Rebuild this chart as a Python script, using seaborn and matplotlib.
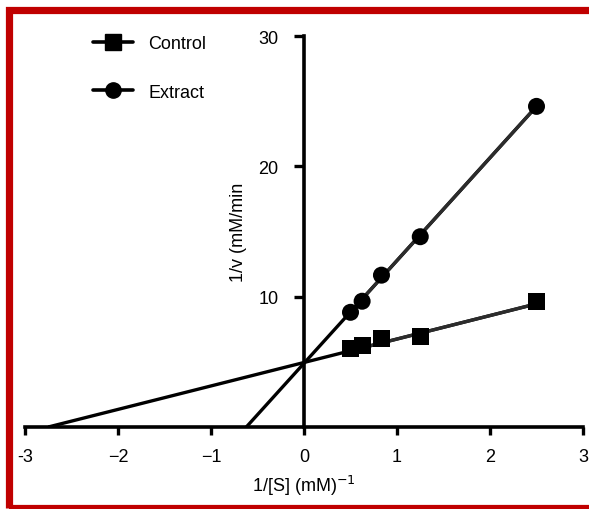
import matplotlib
matplotlib.use("Agg")
import matplotlib.pyplot as plt
import seaborn as sns
import numpy as np
import pandas as pd
from matplotlib.lines import Line2D
from matplotlib.patches import Rectangle

# Lineweaver-Burk data
inv_s = [0.5, 0.625, 0.833, 1.25, 2.5]
control_inv_v = [6.0, 6.25, 6.8, 6.95, 9.65]
extract_inv_v = [8.8, 9.65, 11.65, 14.6, 24.6]

# fitted lines, from x-intercept to last point
control_fit_x = [-2.75, 2.5]
control_fit_y = [0, 9.45]
extract_fit_x = [-0.62, 2.5]
extract_fit_y = [0, 24.6]

xticks = [-3, -2, -1, 0, 1, 2, 3]
xtick_labels = ["-3", "\u22122", "\u22121", "0", "1", "2", "3"]
yticks = [10, 20, 30]

df = pd.DataFrame({
    "x": inv_s * 2,
    "y": control_inv_v + extract_inv_v,
    "group": ["Control"] * 5 + ["Extract"] * 5,
})

sns.set_theme(style="white")
plt.rcParams["font.family"] = ["Liberation Sans", "DejaVu Sans"]
plt.rcParams["text.color"] = "black"
plt.rcParams["axes.labelcolor"] = "black"
plt.rcParams["xtick.color"] = "black"
plt.rcParams["ytick.color"] = "black"

fig = plt.figure(figsize=(5.89, 5.10), dpi=100)
ax = fig.add_axes([25 / 589, 1 - 428 / 510, 558 / 589, 391 / 510])

for fx, fy in [(control_fit_x, control_fit_y), (extract_fit_x, extract_fit_y)]:
    ax.plot(fx, fy, color="black", lw=2.4, solid_capstyle="butt", zorder=2)
    x0 = inv_s[0]
    y0 = np.interp(x0, fx, fy)
    ax.plot([x0, fx[1]], [y0, fy[1]], color="#2c2c2c", lw=2.4, zorder=3)

sns.scatterplot(data=df, x="x", y="y", style="group", markers={"Control": "s", "Extract": "o"},
                color="black", s=150, edgecolor="black", linewidth=0, legend=False, ax=ax, zorder=4)

ax.set_xlim(-3, 3)
ax.set_ylim(0, 30)
for s in ["top", "right"]:
    ax.spines[s].set_visible(False)
ax.spines["left"].set_position(("data", 0))
ax.spines["bottom"].set_position(("data", 0))
for s in ["left", "bottom"]:
    ax.spines[s].set_linewidth(2.6)
    ax.spines[s].set_color("black")

ax.set_xticks(xticks)
ax.set_xticklabels(xtick_labels)
ax.set_yticks(yticks)
ax.tick_params(axis="x", direction="out", length=6, width=2.4, pad=9, labelsize=13, bottom=True)
ax.tick_params(axis="y", direction="out", length=7.5, width=2.4, pad=11, labelsize=13, left=True)

ax.set_xlabel("1/[S] (mM)$^{-1}$", fontsize=13, labelpad=6)
ax.set_ylabel("1/v (mM/min", fontsize=13, labelpad=8)

handles = [
    Line2D([], [], color="black", lw=2.6, marker="s", markersize=11),
    Line2D([], [], color="black", lw=2.6, marker="o", markersize=11),
]
fig.legend(handles, ["Control", "Extract"], loc="upper left",
           bbox_to_anchor=(93 / 589, 1 - 36 / 510), frameon=False, fontsize=13,
           handlelength=2.2, handletextpad=0.85, labelspacing=1.75,
           borderpad=0, borderaxespad=0)

# red frame (right side cropped in the original)
fig.patches.append(Rectangle((8.5 / 589, 1.5 / 510), 1.2, 1 - 12 / 510,
                             transform=fig.transFigure, fill=False,
                             edgecolor="#c00000", lw=5.2, zorder=10))

fig.savefig("out.png", dpi=100)
